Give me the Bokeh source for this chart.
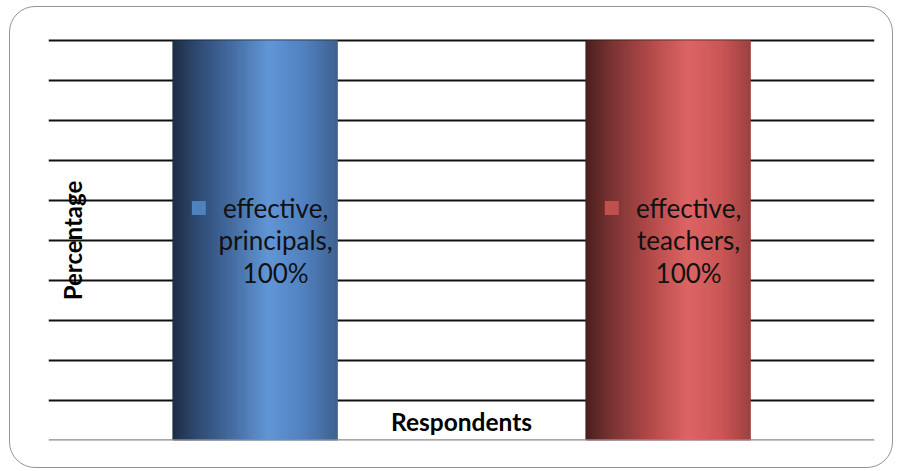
from bokeh.plotting import figure
from bokeh.models import ColumnDataSource, Range1d, FixedTicker, Span, Label
from bokeh.core.properties import value
from bokeh.embed import file_html
from bokeh.resources import INLINE

# --- data -------------------------------------------------------------
categories = ["principals", "teachers"]
series_name = "effective"
values = [100, 100]            # percent
y_ticks = [10, 20, 30, 40, 50, 60, 70, 80, 90, 100]
x_title = "Respondents"
y_title = "Percentage"

# --- styling ----------------------------------------------------------
bar_width = 0.4
base_colors = ["#4f81bd", "#c0504d"]
# horizontal shading profile of each cylinder-like bar: (position, colour)
shades = [
    [(0.0, "#1d2d45"), (0.15, "#2e4a72"), (0.35, "#436a9f"), (0.58, "#6196d6"),
     (0.8, "#5080bf"), (1.0, "#3f6190")],
    [(0.0, "#4a1e1e"), (0.15, "#783232"), (0.38, "#b04848"), (0.62, "#de6464"),
     (0.82, "#cb5656"), (1.0, "#9e4040")],
]
n_slices = 70


def hex_to_rgb(h):
    h = h.lstrip("#")
    return tuple(int(h[i:i + 2], 16) for i in (0, 2, 4))


def shade_at(profile, t):
    for (t0, c0), (t1, c1) in zip(profile, profile[1:]):
        if t0 <= t <= t1:
            f = (t - t0) / (t1 - t0)
            a, b = hex_to_rgb(c0), hex_to_rgb(c1)
            return "#%02x%02x%02x" % tuple(round(a[k] + (b[k] - a[k]) * f) for k in range(3))
    return profile[-1][1]


p = figure(
    width=884, height=462,
    x_range=Range1d(0, len(categories)), y_range=Range1d(0, 100.5),
    output_backend="svg", toolbar_location=None,
    min_border_left=38, min_border_right=20, min_border_top=31, min_border_bottom=29,
)
p.styles = {"margin-left": "9px", "margin-top": "6px",
            "border": "1.5px solid #959595", "border-radius": "26px",
            "overflow": "hidden"}
p.border_fill_color = None
p.outline_line_color = None
p.xaxis.visible = False
p.yaxis.visible = False
p.xgrid.visible = False
p.ygrid.ticker = FixedTicker(ticks=y_ticks)
p.ygrid.grid_line_color = "#111111"
p.ygrid.grid_line_width = 2.2

# shaded bars built from thin, overlapping vertical slices
lefts, rights, tops, colors = [], [], [], []
for i, (cat, v) in enumerate(zip(categories, values)):
    centre = i + 0.5
    x0 = centre - bar_width / 2
    step = bar_width / n_slices
    for k in range(n_slices):
        lefts.append(x0 + k * step)
        rights.append(min(x0 + (k + 2) * step, x0 + bar_width))
        tops.append(v)
        colors.append(shade_at(shades[i], (k + 0.5) / n_slices))
p.quad(left=lefts, right=rights, top=tops, bottom=0, fill_color=colors, line_color=None)

# category axis line
p.add_layout(Span(location=0, dimension="width", line_color="#8a8a8a", line_width=2.5))

# data labels with legend key
label_src = ColumnDataSource(dict(
    x=[i + 0.5 + 0.05 for i in range(len(categories))],
    y=[v / 2 for v in values],
    text=[f"{series_name},\n{c},\n{v}%" for c, v in zip(categories, values)],
))
p.text(x="x", y="y", text="text", source=label_src, text_align="center",
       text_baseline="middle", text_font=value("Lato"), text_font_size="26px",
       text_line_height=1.02, text_color="#111111")

key_src = ColumnDataSource(dict(
    x=[i + 0.5 - 0.136 for i in range(len(categories))],
    y=[v / 2 + 8.1 for v in values],
    c=base_colors,
))
p.rect(x="x", y="y", width=14, height=14, width_units="screen", height_units="screen",
       fill_color="c", line_color=None, source=key_src)

# axis titles placed inside the plotting area
p.add_layout(Label(x=len(categories) / 2, y=4.8, text=x_title, text_align="center",
                   text_baseline="middle", text_font="Lato", text_font_style="bold",
                   text_font_size="24.5px", text_color="#000000"))
p.add_layout(Label(x=0.058, y=50, text=y_title, angle=90, angle_units="deg",
                   text_align="center", text_baseline="middle", text_font="Lato",
                   text_font_style="bold", text_font_size="24px", text_color="#000000"))

open("out.html", "w").write(file_html(p, INLINE))
